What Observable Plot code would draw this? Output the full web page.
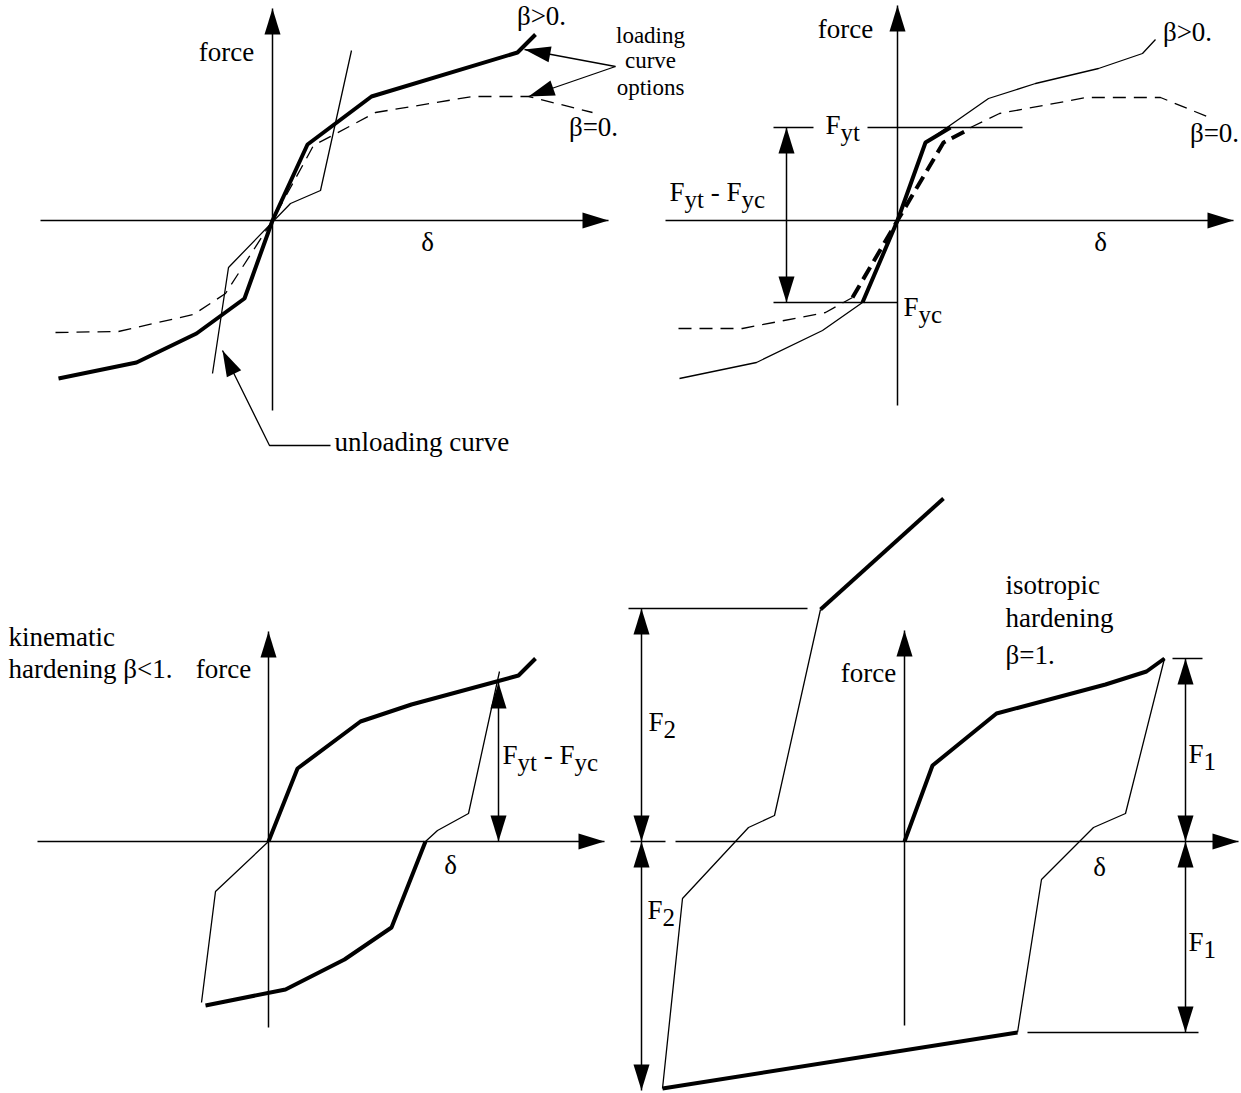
<!DOCTYPE html>
<html><head><meta charset="utf-8">
<script src="https://cdn.jsdelivr.net/npm/d3@7"></script>
<script src="https://cdn.jsdelivr.net/npm/@observablehq/plot@0.6"></script>
<style>
html,body{margin:0;padding:0;background:#fff;}
#fig{position:relative;width:1241px;height:1093px;overflow:hidden;background:#fff;}
#fig svg{position:absolute;left:0;top:0;overflow:visible;}
</style></head><body><div id="fig"></div>
<script>
// ===== Panel A: loading curve options (delta, force relative to origin) =====
const aAxisDelta = [-232, 336];
const aAxisForce = [-190, 212];
const aLoadBetaPos = [[-214,-158],[-136,-142],[-76,-113],[-28,-78],[0,0],[35,76],[99,124],[245,168],[263,186]];
const aLoadBetaZero = [[-217,-112],[-154,-111],[-79,-94],[-47,-73],[0,0],[41,75],[103,108],[200,124],[256,124],[320,108]];
const aUnload = [[-60,-153],[-44,-47],[18,17],[48,30],[79,170]];
const aLeaders = [[[343,154],[252,171]], [[343,154],[256,124]], [[58,-225],[-3,-225],[-50,-130]]];
const aLabels = [
  {x:-46, y:160, t:"force", a:"middle"}, {x:155, y:-30, t:"δ", a:"middle"},
  {x:269, y:196, t:"β>0.", a:"middle"}, {x:321, y:85, t:"β=0.", a:"middle"},
  {x:62, y:-230, t:"unloading curve", a:"start"}];
const aSmallLabels = [{x:378, y:178, t:"loading"}, {x:378, y:153, t:"curve"}, {x:378, y:126, t:"options"}];

// ===== Panel B: yield levels =====
const bAxisDelta = [-232, 336];
const bAxisForce = [-185, 215];
const bLoadBetaPos = [[-218,-158],[-141,-142],[-75,-110],[-35,-82],[0,0],[28,78],[91,122],[138,137],[201,152],[245,167],[258,181]];
const bBetaZeroLow = [[-219,-108],[-155,-108],[-72,-92],[-45,-77]];
const bBetaZeroHigh = [[73,93],[102,107],[189,123],[263,123],[312,103]];
const bElasticSolid = [[-35,-82],[0,0],[28,78],[53,93]];
const bElasticDashed = [[-45,-77],[0,0],[46,78],[73,92]];
const bFyt = 93, bFyc = -82;
const bRefLines = [[[-124,bFyt],[-84,bFyt]], [[-30,bFyt],[125,bFyt]], [[-124,bFyc],[0,bFyc]]];
const bDims = [{x:-111, y1:bFyc, y2:bFyt}];
const bLabels = [
  {x:-52, y:183, t:"force", a:"middle"}, {x:203, y:-30, t:"δ", a:"middle"},
  {x:290, y:180, t:"β>0.", a:"middle"}, {x:317, y:79, t:"β=0.", a:"middle"},
  {x:-228, y:20, t:"F_yt - F_yc", a:"start"}, {x:-72, y:87, t:"F_yt", a:"start"},
  {x:6, y:-95, t:"F_yc", a:"start"}];

// ===== Panel C: kinematic hardening =====
const cAxisDelta = [-231, 336];
const cAxisForce = [-186, 210];
const cLoad = [[0,0],[29,73],[92,120],[143,137],[250,166],[267,183]];
const cUnload = [[231,170],[200,28],[169,11],[157,0]];
const cReverse = [[157,0],[123,-86],[76,-118],[17,-148],[-63,-164]];
const cReload = [[-67,-161],[-53,-50],[0,0]];
const cDims = [{x:230, y1:0, y2:159}];
const cLabels = [
  {x:-260, y:196, t:"kinematic", a:"start"}, {x:-260, y:164, t:"hardening β<1.", a:"start"},
  {x:-45, y:164, t:"force", a:"middle"}, {x:182, y:-32, t:"δ", a:"middle"},
  {x:234, y:78, t:"F_yt - F_yc", a:"start"}];

// ===== Panel D: isotropic hardening =====
const dAxisDelta = [-229, 334];
const dAxisStub = [-274, -239];
const dAxisForce = [-184, 211];
const dLoad = [[0,0],[28,76],[92,128],[201,157],[242,170],[260,183]];
const dUnload = [[260,183],[221,28],[189,14],[137,-38],[113,-191]];
const dReverse = [[113,-191],[-242,-247]];
const dReload = [[-242,-247],[-222,-57],[-156,14],[-130,26],[-84,232]];
const dHarden = [[-84,232],[39,343]];
const dRefLines = [[[-276,233],[-97,233]], [[268,183],[298,183]], [[123,-191],[294,-191]]];
const dDims = [{x:-263, y1:0, y2:233}, {x:-263, y1:0, y2:-249}, {x:281, y1:0, y2:183}, {x:281, y1:0, y2:-191}];
const dLabels = [
  {x:-36, y:160, t:"force", a:"middle"}, {x:195, y:-34, t:"δ", a:"middle"},
  {x:101, y:248, t:"isotropic", a:"start"}, {x:101, y:215, t:"hardening", a:"start"},
  {x:101, y:178, t:"β=1.", a:"start"},
  {x:-256, y:111, t:"F_2", a:"start"}, {x:-257, y:-77, t:"F_2", a:"start"},
  {x:284, y:79, t:"F_1", a:"start"}, {x:284, y:-109, t:"F_1", a:"start"}];

// ===== drawing helpers =====
const W = 1241, H = 1093;
const FONT = "'Liberation Serif','Times New Roman',serif";
const FS = 27, SUB = 25, SUBDY = 7;
const THIN = 1.3, THICK = 4, AXIS = 1.5;
const head = {draw(ctx) { ctx.moveTo(0, 0); ctx.lineTo(-8, 26); ctx.lineTo(8, 26); ctx.closePath(); }};
const P = d => d[0], Q = d => d[1];

function poly(data, w, dash) {
  return Plot.line(data, {x: P, y: Q, stroke: "black", strokeWidth: w, strokeDasharray: dash,
    strokeLinejoin: "miter", strokeLinecap: "butt"});
}
function segs(list, w) {
  return Plot.link(list, {x1: d => d[0][0], y1: d => d[0][1], x2: d => d[1][0], y2: d => d[1][1],
    stroke: "black", strokeWidth: w, strokeLinecap: "butt"});
}
function heads(list) {
  return Plot.dot(list, {x: "x", y: "y", rotate: "r", symbol: head, r: 3, fill: "black", stroke: "none"});
}
function axes(dr, fr) {
  return [
    segs([[[dr[0], 0], [dr[1], 0]], [[0, fr[0]], [0, fr[1]]]], AXIS),
    heads([{x: dr[1], y: 0, r: 90}, {x: 0, y: fr[1], r: 0}])
  ];
}
function dims(list) {
  return [
    segs(list.map(d => [[d.x, d.y1], [d.x, d.y2]]), AXIS),
    heads(list.flatMap(d => [{x: d.x, y: d.y1, r: d.y1 < d.y2 ? 180 : 0}, {x: d.x, y: d.y2, r: d.y2 > d.y1 ? 0 : 180}]))
  ];
}
function leaders(list) {
  return [
    ...list.map(l => poly(l, THIN)),
    heads(list.map(l => {
      const a = l[l.length - 2], b = l[l.length - 1];
      return {x: b[0], y: b[1], r: Math.atan2(b[0] - a[0], b[1] - a[1]) * 180 / Math.PI};
    }))
  ];
}
function labels(list, size) {
  return ["start", "middle"].map(anchor => Plot.text(list.filter(d => (d.a ?? "middle") === anchor), {
    x: "x", y: "y", text: "t", textAnchor: anchor,
    lineAnchor: "bottom", fontSize: size, fill: "black", fontFamily: FONT}));
}
function subscriptify(svg) {
  d3.select(svg).selectAll("text").each(function() {
    const s = this.textContent;
    if (!s.includes("_")) return;
    const el = d3.select(this); el.text(null);
    let low = false;
    for (const part of s.split(/(_[A-Za-z0-9]+)/)) {
      if (!part) continue;
      if (part[0] === "_") {
        el.append("tspan").attr("font-size", SUB).attr("dy", low ? 0 : SUBDY).text(part.slice(1)); low = true;
      } else {
        el.append("tspan").attr("dy", low ? -SUBDY : 0).text(part); low = false;
      }
    }
  });
}
function panel(origin, marks) {
  const [ox, oy] = origin;
  const svg = Plot.plot({
    width: W, height: H, margin: 0,
    x: {domain: [-ox, W - ox], range: [0, W], axis: null},
    y: {domain: [oy, oy - H], range: [0, H], axis: null},
    style: {background: "transparent", fontFamily: FONT, fontSize: FS + "px", overflow: "visible"},
    marks
  });
  subscriptify(svg);
  document.getElementById("fig").appendChild(svg);
}

// ===== panels =====
panel([272, 220], [
  ...axes(aAxisDelta, aAxisForce),
  poly(aLoadBetaZero, THIN, "13,8"),
  poly(aUnload, THIN),
  poly(aLoadBetaPos, THICK),
  ...leaders(aLeaders),
  ...labels(aLabels, FS),
  Plot.text(aSmallLabels, {x: "x", y: "y", text: "t", lineAnchor: "bottom", fontSize: 23, fill: "black", fontFamily: FONT})
]);

panel([897, 220], [
  ...axes(bAxisDelta, bAxisForce),
  segs(bRefLines, AXIS),
  ...dims(bDims),
  poly(bLoadBetaPos, THIN),
  poly(bBetaZeroLow, THIN, "13,8"),
  poly(bBetaZeroHigh, THIN, "13,8"),
  poly(bElasticDashed, THICK, "14,7"),
  poly(bElasticSolid, THICK),
  ...labels(bLabels, FS)
]);

panel([268, 841], [
  ...axes(cAxisDelta, cAxisForce),
  ...dims(cDims),
  poly(cUnload, THIN),
  poly(cReload, THIN),
  poly(cLoad, THICK),
  poly(cReverse, THICK),
  ...labels(cLabels, FS)
]);

panel([904, 841], [
  ...axes(dAxisDelta, dAxisForce),
  segs([[[dAxisStub[0], 0], [dAxisStub[1], 0]]], AXIS),
  segs(dRefLines, AXIS),
  ...dims(dDims),
  poly(dUnload, THIN),
  poly(dReload, THIN),
  poly(dLoad, THICK),
  poly(dReverse, THICK),
  poly(dHarden, THICK),
  ...labels(dLabels, FS)
]);
</script></body></html>
